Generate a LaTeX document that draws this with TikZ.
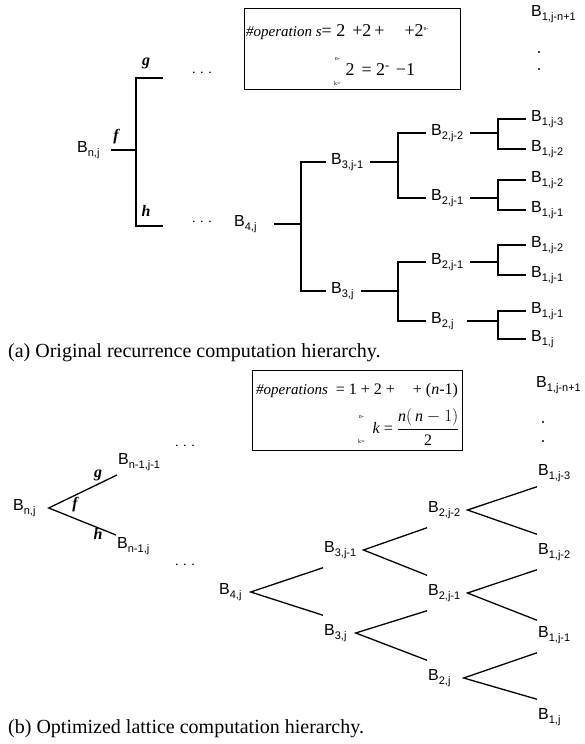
\documentclass[tikz,border=0pt]{standalone}
\usepackage{fontspec}
\setmainfont{Liberation Serif}
\setsansfont{Liberation Sans}
\usetikzlibrary{positioning}

\newcommand\Bij[1]{B\raisebox{-0.45ex}{\fontsize{11}{11}\selectfont #1}}
\newcommand\Lims[2]{\raisebox{-10pt}{\fontsize{6}{6}\selectfont\shortstack{#1\\[18pt]#2}}}

\tikzset{
  bnode/.style={font=\sffamily\fontsize{16}{16}\selectfont,inner sep=1pt,anchor=west},
  fnlabel/.style={font=\bfseries\itshape\fontsize{16}{16}\selectfont,inner sep=0pt},
  branch/.style={line width=1.3pt},
  elbow/.style={branch,shorten <=4pt,shorten >=4pt},
  opsbox/.style={draw,line width=1pt,anchor=north west,inner sep=0pt},
  opsline/.style={anchor=west,inner sep=0pt,font=\fontsize{18}{18}\selectfont},
  hdots/.style={font=\fontsize{14}{14}\selectfont,inner sep=0pt},
  caption/.style={anchor=west,inner sep=0pt,font=\fontsize{20}{20}\selectfont},
}

\begin{document}
\begin{tikzpicture}[x=1pt,y=-1pt]
\useasboundingbox (0,0) rectangle (585,744);

% (a) original recurrence
\node[opsbox,minimum width=216pt,minimum height=81pt] (opsA) at (244,8) {};
\node[opsline] (opsAtop) at (246,32) {{\fontsize{15}{15}\itshape\#operation s}= 2\hspace{7pt}+2\hspace{3pt}+\hspace{20pt}+2\textsuperscript{\fontsize{6}{6}\selectfont n-}};
\node[opsline] (opsAbot) at (334,72) {\Lims{n-}{k=}\hspace{5pt}2\hspace{7pt}= 2\textsuperscript{-}\hspace{6pt}−1};

\node[bnode] (topA) at (530,14) {\Bij{1,j-n+1}};
\fill (539,52) circle (1.1pt) (539,69) circle (1.1pt);

\node[bnode] (bnjA) at (76,150) {\Bij{n,j}};
\coordinate (jnA) at (136,150);
\coordinate (gA) at (163,78);
\coordinate (hA) at (163,226);
\draw[branch,shorten <=10pt] (bnjA.east) -- (jnA);
\draw[branch] (gA) -| (jnA) |- (hA);
\node[fnlabel] (gLA) at (146,63) {g};
\node[fnlabel] (fLA) at (116,137) {f};
\node[fnlabel] (hLA) at (146,211) {h};
\node[hdots] (dgA) at (202,73) {.\,\,.\,\,.};
\node[hdots] (dhA) at (202,222) {.\,\,.\,\,.};

\node[bnode] (b4A) at (233,224) {\Bij{4,j}};
\node[bnode] (b3aA) at (330,162) {\Bij{3,j-1}};
\node[bnode] (b3bA) at (330,291) {\Bij{3,j}};
\node[bnode] (b2aA) at (430,133) {\Bij{2,j-2}};
\node[bnode] (b2bA) at (430,198) {\Bij{2,j-1}};
\node[bnode] (b2cA) at (430,262) {\Bij{2,j-1}};
\node[bnode] (b2dA) at (430,321) {\Bij{2,j}};
\node[bnode] (lA1) at (530,119) {\Bij{1,j-3}};
\node[bnode] (lA2) at (530,149) {\Bij{1,j-2}};
\node[bnode] (lA3) at (530,180) {\Bij{1,j-2}};
\node[bnode] (lA4) at (530,210) {\Bij{1,j-1}};
\node[bnode] (lA5) at (530,245) {\Bij{1,j-2}};
\node[bnode] (lA6) at (530,275) {\Bij{1,j-1}};
\node[bnode] (lA7) at (530,311) {\Bij{1,j-1}};
\node[bnode] (lA8) at (530,339) {\Bij{1,j}};

\coordinate (j4A) at (301,224);
\coordinate (j3aA) at (398,162);
\coordinate (j3bA) at (398,291);
\coordinate (j2aA) at (498,133);
\coordinate (j2bA) at (498,198);
\coordinate (j2cA) at (498,262);
\coordinate (j2dA) at (498,321);

\draw[branch,shorten <=16pt] (b4A.east) -- (j4A);
\draw[elbow] (b3aA.west) -| (j4A) |- (b3bA.west);
\draw[branch,shorten <=6pt] (b3aA.east) -- (j3aA);
\draw[elbow] (b2aA.west) -| (j3aA) |- (b2bA.west);
\draw[branch,shorten <=6pt] (b3bA.east) -- (j3bA);
\draw[elbow] (b2cA.west) -| (j3bA) |- (b2dA.west);
\draw[branch,shorten <=6pt] (b2aA.east) -- (j2aA);
\draw[elbow] (lA1.west) -| (j2aA) |- (lA2.west);
\draw[branch,shorten <=6pt] (b2bA.east) -- (j2bA);
\draw[elbow] (lA3.west) -| (j2bA) |- (lA4.west);
\draw[branch,shorten <=6pt] (b2cA.east) -- (j2cA);
\draw[elbow] (lA5.west) -| (j2cA) |- (lA6.west);
\draw[branch,shorten <=12pt] (b2dA.east) -- (j2dA);
\draw[elbow] (lA7.west) -| (j2dA) |- (lA8.west);

\node[caption] (capA) at (8,353) {(a) Original recurrence computation hierarchy.};

% (b) optimized lattice
\node[opsbox,minimum width=210pt,minimum height=80pt] (opsB) at (252,370) {};
\node[opsline,font=\fontsize{16}{16}\selectfont] (opsBtop) at (256,391) {{\fontsize{15}{15}\itshape\#operations}\hspace{8pt}= 1 + 2 +\hspace{18pt}+ (\textit{n}-1)};
\node[opsline,font=\fontsize{16}{16}\selectfont] (opsBbot) at (358,427) {\Lims{n-}{k=}\hspace{8pt}\textit{k} = $\displaystyle\frac{\mbox{\itshape n}(\,\mbox{\itshape n}-1)}{\mbox{2}}$};

\node[bnode] (topB) at (535,385) {\Bij{1,j-n+1}};
\fill (543,422) circle (1.1pt) (543,441) circle (1.1pt);

\node[bnode] (bnjB) at (12,508) {\Bij{n,j}};
\node[bnode] (bn1aB) at (117,462) {\Bij{n-1,j-1}};
\node[bnode] (bn1bB) at (116,546) {\Bij{n-1,j}};
\draw[branch] ([yshift=-13pt]bn1aB.west) -- ([xshift=12pt]bnjB.east) -- ([yshift=11pt]bn1bB.west);
\node[fnlabel] (gLB) at (98,475) {g};
\node[fnlabel] (fLB) at (75,505) {f};
\node[fnlabel] (hLB) at (98,534) {h};
\node[hdots] (daB) at (185,446) {.\,\,.\,\,.};
\node[hdots] (dbB) at (185,565) {.\,\,.\,\,.};

\node[bnode] (b4B) at (218,592) {\Bij{4,j}};
\node[bnode] (b3aB) at (323,550) {\Bij{3,j-1}};
\node[bnode] (b3bB) at (323,633) {\Bij{3,j}};
\node[bnode] (b2aB) at (427,510) {\Bij{2,j-2}};
\node[bnode] (b2bB) at (427,593) {\Bij{2,j-1}};
\node[bnode] (b2cB) at (427,678) {\Bij{2,j}};
\node[bnode] (lB1) at (537,473) {\Bij{1,j-3}};
\node[bnode] (lB2) at (537,552) {\Bij{1,j-2}};
\node[bnode] (lB3) at (537,635) {\Bij{1,j-1}};
\node[bnode] (lB4) at (537,717) {\Bij{1,j}};

\draw[branch] ([yshift=-8pt]b3aB.south west) -- ([xshift=8pt]b4B.east) -- ([yshift=8pt]b3bB.north west);
\draw[branch] ([yshift=-8pt]b2aB.south west) -- ([xshift=6pt]b3aB.east) -- ([yshift=8pt]b2bB.north west);
\draw[branch] ([yshift=-8pt]b2bB.south west) -- ([xshift=8pt]b3bB.east) -- ([yshift=8pt]b2cB.north west);
\draw[branch] ([yshift=-4pt]lB1.south west) -- ([xshift=6pt]b2aB.east) -- ([yshift=8pt]lB2.north west);
\draw[branch] ([yshift=-8pt]lB2.south west) -- ([xshift=6pt]b2bB.east) -- ([yshift=5pt]lB3.north west);
\draw[branch] ([yshift=-8pt]lB3.south west) -- ([xshift=12pt]b2cB.east) -- ([yshift=8pt]lB4.north west);

\node[caption] (capB) at (8,729) {(b) Optimized lattice computation hierarchy.};
\end{tikzpicture}
\end{document}
